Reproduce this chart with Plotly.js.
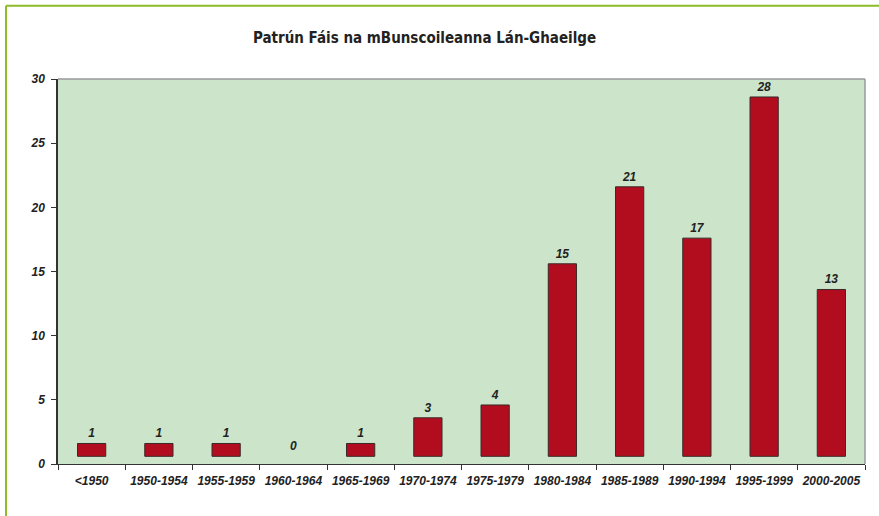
<!DOCTYPE html>
<html>
<head>
<meta charset="utf-8">
<script src="https://cdn.plot.ly/plotly-3.0.1.min.js"></script>
<style>
  body { margin: 0; background: #fff; }
  #chart { width: 879px; height: 516px; }
</style>
</head>
<body>
<div id="chart"></div>
<script>
// period of founding and number of all-Irish primary schools
var periods = ['<1950', '1950-1954', '1955-1959', '1960-1964', '1965-1969', '1970-1974',
               '1975-1979', '1980-1984', '1985-1989', '1990-1994', '1995-1999', '2000-2005']
var schools = [1, 1, 1, 0, 1, 3, 4, 15, 21, 17, 28, 13]
var yTicks = [0, 5, 10, 15, 20, 25, 30]

function make_growth_figure() {
    // bars in the original float a little above the axis
    var lift = 0.6

    var trace_bars = {
        x: periods,
        y: schools,
        base: lift,
        type: 'bar',
        width: 0.42,
        marker: {
            color: '#B20D1E',
            line: { color: '#3a2a2a', width: schools.map(v => v > 0 ? 1 : 0) }
        },
        hoverinfo: 'x+y'
    }

    var trace_labels = {
        x: periods,
        y: schools.map(v => v + lift + 0.25),
        mode: 'text',
        type: 'scatter',
        text: schools.map(String),
        textposition: 'top center',
        textfont: { family: 'Liberation Sans, Arial, sans-serif', size: 12, color: '#222',
                    weight: 'bold', style: 'italic' },
        hoverinfo: 'skip',
        cliponaxis: false
    }

    var tickFont = { family: 'Liberation Sans, Arial, sans-serif', size: 12, color: '#222',
                     weight: 'bold', style: 'italic' }

    var layout = {
        width: 879,
        height: 516,
        margin: { l: 58, r: 14, t: 79, b: 52 },
        showlegend: false,
        paper_bgcolor: '#ffffff',
        plot_bgcolor: '#CCE5CA',
        title: {
            text: 'Patrún Fáis na mBunscoileanna Lán-Ghaeilge',
            font: { family: 'DejaVu Sans Condensed, DejaVu Sans, sans-serif', size: 15, color: '#222', weight: 'bold' },
            x: 0.483, xanchor: 'center',
            y: 0.926, yanchor: 'middle'
        },
        xaxis: {
            type: 'category',
            range: [-0.5, periods.length - 0.5],
            tickson: 'boundaries',
            tickangle: 0,
            ticks: 'outside',
            ticklen: 5,
            tickcolor: '#333',
            showline: true,
            linecolor: '#333',
            linewidth: 1,
            tickfont: tickFont,
            ticklabelstandoff: 6,
            showgrid: false,
            zeroline: false,
            fixedrange: true
        },
        yaxis: {
            range: [0, 30],
            tickvals: yTicks,
            ticks: 'outside',
            ticklen: 5,
            tickcolor: '#333',
            showline: true,
            linecolor: '#333',
            linewidth: 1.5,
            tickfont: tickFont,
            ticklabelstandoff: 4,
            showgrid: false,
            zeroline: false,
            fixedrange: true
        },
        shapes: [
            // grey frame of the plot area (top and right)
            { type: 'line', xref: 'paper', yref: 'paper', x0: 0, x1: 1, y0: 1, y1: 1,
              line: { color: '#9a9a9a', width: 1.5 } },
            { type: 'line', xref: 'paper', yref: 'paper', x0: 1, x1: 1, y0: 0, y1: 1,
              line: { color: '#9a9a9a', width: 1.5 } },
            // green page frame
            { type: 'line', xref: 'paper', yref: 'paper', x0: -0.0644, x1: 1.02, y0: 1.19, y1: 1.19,
              line: { color: '#8DBB2A', width: 2 } },
            { type: 'line', xref: 'paper', yref: 'paper', x0: -0.0644, x1: -0.0644, y0: 1.19, y1: -0.14,
              line: { color: '#8DBB2A', width: 2 } }
        ]
    }

    Plotly.newPlot('chart', [trace_bars, trace_labels], layout, { displayModeBar: false })
}

make_growth_figure()
</script>
</body>
</html>
